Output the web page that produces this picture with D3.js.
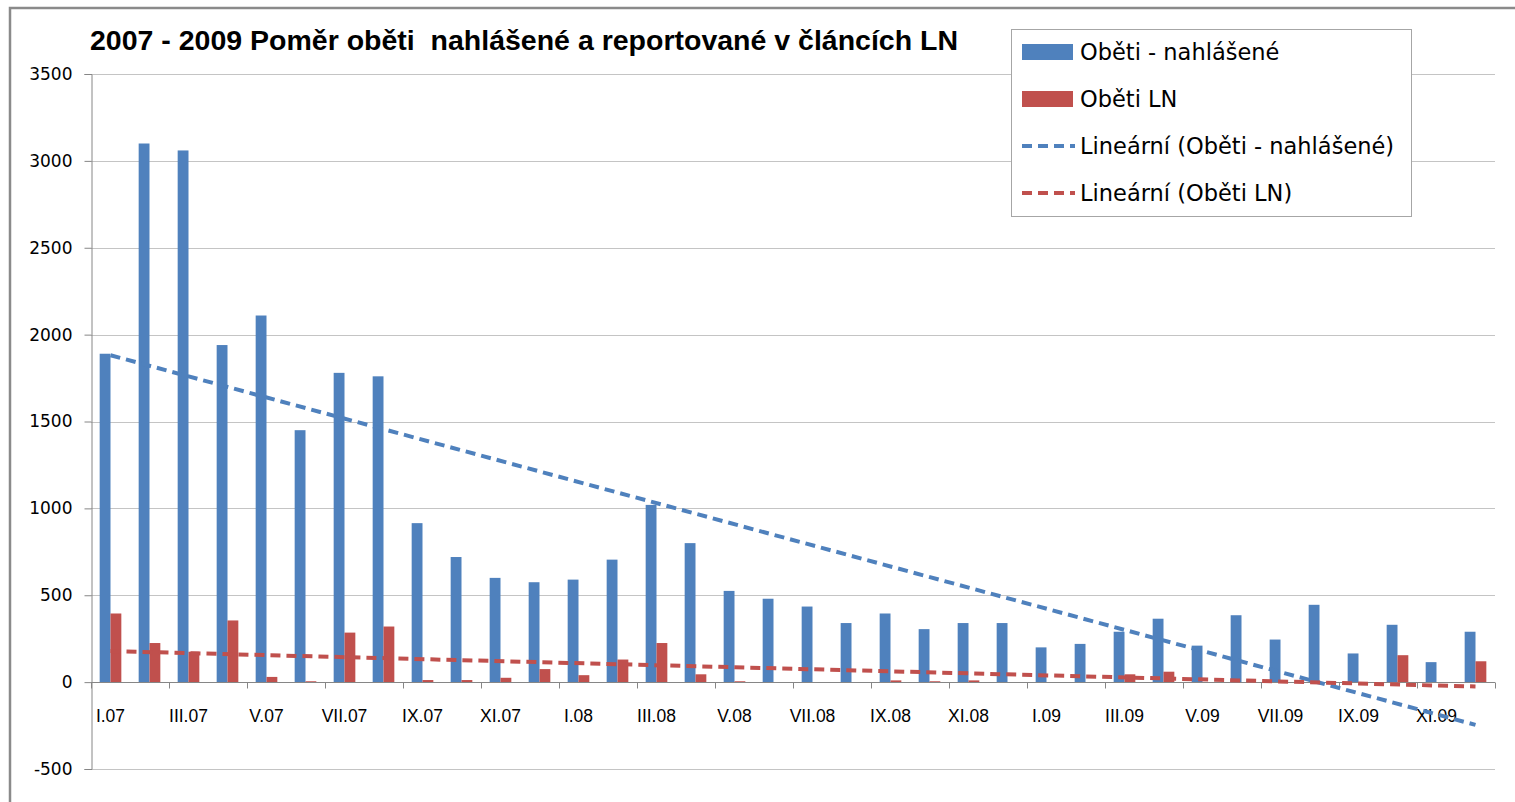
<!DOCTYPE html>
<html>
<head>
<meta charset="utf-8">
<script src="https://cdn.jsdelivr.net/npm/d3@7"></script>
<style>
  html, body { margin: 0; padding: 0; background: #fff; }
  svg { display: block; }
</style>
</head>
<body>
<svg id="chart" width="1515" height="802"></svg>
<script>
// ---- data ----
const months = [
  "I.07","II.07","III.07","IV.07","V.07","VI.07","VII.07","VIII.07","IX.07","X.07","XI.07","XII.07",
  "I.08","II.08","III.08","IV.08","V.08","VI.08","VII.08","VIII.08","IX.08","X.08","XI.08","XII.08",
  "I.09","II.09","III.09","IV.09","V.09","VI.09","VII.09","VIII.09","IX.09","X.09","XI.09","XII.09"
];
const obetiNahlasene = [
  1890, 3100, 3060, 1940, 2110, 1450, 1780, 1760, 915, 720, 600, 575,
  590, 705, 1020, 800, 525, 480, 435, 340, 395, 305, 340, 340,
  200, 220, 290, 365, 210, 385, 245, 445, 165, 330, 115, 290
];
const obetiLN = [
  395, 225, 175, 355, 30, 5, 285, 320, 12, 12, 25, 75,
  40, 130, 225, 45, 5, 0, 0, 0, 10, 5, 10, 0,
  0, 0, 45, 60, 0, 0, 0, 0, 0, 155, 0, 120
];
const yTicks = [-500, 0, 500, 1000, 1500, 2000, 2500, 3000, 3500];
const seriesNames = ["Oběti - nahlášené", "Oběti LN"];
const trendNames = ["Lineární (Oběti - nahlášené)", "Lineární (Oběti LN)"];
const titleText = "2007 - 2009 Poměr oběti  nahlášené a reportované v článcích LN";

const colors = ["#4F81BD", "#C0504D"];

// ---- layout ----
const svg = d3.select("#chart");
const plot = { left: 91, right: 1495, top: 74, bottom: 769 };

const x = d3.scaleBand().domain(months).range([plot.left, plot.right]).paddingInner(0).paddingOuter(0);
const xs = d3.scaleBand().domain([0, 1]).range([0, x.bandwidth()]).paddingInner(0).paddingOuter(0.8);
const y = d3.scaleLinear().domain([-500, 3500]).range([plot.bottom, plot.top]);

// outer border
svg.append("rect").attr("x", 10).attr("y", 8).attr("width", 1530).attr("height", 830)
  .attr("fill", "none").attr("stroke", "#8a8a8a").attr("stroke-width", 2.5);

// gridlines
svg.append("g").selectAll("line").data(yTicks).join("line")
  .attr("x1", plot.left).attr("x2", plot.right)
  .attr("y1", d => Math.round(y(d)) + 0.5).attr("y2", d => Math.round(y(d)) + 0.5)
  .attr("stroke", "#c4c4c4").attr("stroke-width", 1);

// y axis
const yAxis = d3.axisLeft(y).tickValues(yTicks).tickSize(7).tickPadding(12).tickFormat(d => String(d));
const gy = svg.append("g").attr("transform", `translate(${plot.left + 0.5},0)`).call(yAxis);
gy.select(".domain").attr("stroke", "#868686");
gy.selectAll(".tick line").attr("stroke", "#868686");
gy.selectAll(".tick text").attr("font-family", "DejaVu Sans, Verdana, sans-serif")
  .attr("font-size", 17).attr("fill", "#000");

// bars
const series = [obetiNahlasene, obetiLN];
series.forEach((vals, si) => {
  svg.append("g").selectAll("rect").data(vals).join("rect")
    .attr("x", (d, i) => x(months[i]) + xs(si))
    .attr("width", xs.bandwidth())
    .attr("y", d => y(Math.max(0, d)))
    .attr("height", d => Math.abs(y(d) - y(0)))
    .attr("fill", colors[si]);
});

// x axis line at zero
const zeroY = Math.round(y(0)) + 0.5;
svg.append("line").attr("x1", plot.left).attr("x2", plot.right)
  .attr("y1", zeroY).attr("y2", zeroY).attr("stroke", "#868686").attr("stroke-width", 1);
// ticks every two categories
const tickIdx = d3.range(0, months.length + 1, 2);
svg.append("g").selectAll("line").data(tickIdx).join("line")
  .attr("x1", i => (i < months.length ? x(months[i]) : plot.right) + 0.5)
  .attr("x2", i => (i < months.length ? x(months[i]) : plot.right) + 0.5)
  .attr("y1", zeroY).attr("y2", zeroY + 6)
  .attr("stroke", "#868686");
// labels every two categories
svg.append("g").selectAll("text").data(months.filter((m, i) => i % 2 === 0)).join("text")
  .attr("x", d => x(d) + x.bandwidth() / 2)
  .attr("y", 722)
  .attr("text-anchor", "middle")
  .attr("font-family", "Liberation Sans, Arial, sans-serif")
  .attr("font-size", 17.5)
  .attr("fill", "#000")
  .text(d => d);

// linear trendlines (least squares, as in the original spreadsheet)
function linFit(vals) {
  const n = vals.length;
  const xsn = d3.range(1, n + 1);
  const mx = d3.mean(xsn), my = d3.mean(vals);
  let sxy = 0, sxx = 0;
  xsn.forEach((xv, i) => { sxy += (xv - mx) * (vals[i] - my); sxx += (xv - mx) ** 2; });
  const b = sxy / sxx, a = my - b * mx;
  return [a + b * 1, a + b * n];
}
series.forEach((vals, si) => {
  const [v0, v1] = linFit(vals);
  svg.append("line")
    .attr("x1", x(months[0]) + x.bandwidth() / 2)
    .attr("x2", x(months[months.length - 1]) + x.bandwidth() / 2)
    .attr("y1", y(v0)).attr("y2", y(v1))
    .attr("stroke", colors[si]).attr("stroke-width", 4)
    .attr("stroke-dasharray", "10,6");
});

// title
svg.append("text")
  .attr("x", 90).attr("y", 50)
  .attr("font-family", "Liberation Sans Narrow, Liberation Sans, Arial, sans-serif")
  .attr("font-weight", "bold")
  .attr("font-size", 27.5)
  .attr("textLength", 868).attr("lengthAdjust", "spacingAndGlyphs")
  .style("white-space", "pre")
  .attr("fill", "#000")
  .text(titleText);

// legend
const lg = svg.append("g");
lg.append("rect").attr("x", 1011.5).attr("y", 29.5).attr("width", 400).attr("height", 187)
  .attr("fill", "#fff").attr("stroke", "#a6a6a6").attr("stroke-width", 1);
const legendItems = [
  { name: seriesNames[0], type: "rect", color: colors[0] },
  { name: seriesNames[1], type: "rect", color: colors[1] },
  { name: trendNames[0], type: "line", color: colors[0] },
  { name: trendNames[1], type: "line", color: colors[1] }
];
legendItems.forEach((it, i) => {
  const cy = 52 + i * 47;
  if (it.type === "rect") {
    lg.append("rect").attr("x", 1022).attr("y", cy - 8).attr("width", 51).attr("height", 16).attr("fill", it.color);
  } else {
    lg.append("line").attr("x1", 1022).attr("x2", 1075).attr("y1", cy).attr("y2", cy)
      .attr("stroke", it.color).attr("stroke-width", 4).attr("stroke-dasharray", "10,6");
  }
  lg.append("text").attr("x", 1080).attr("y", cy + 8)
    .attr("font-family", "DejaVu Sans, Verdana, sans-serif")
    .attr("font-size", 22.5).attr("fill", "#000")
    .text(it.name);
});
</script>
</body>
</html>
